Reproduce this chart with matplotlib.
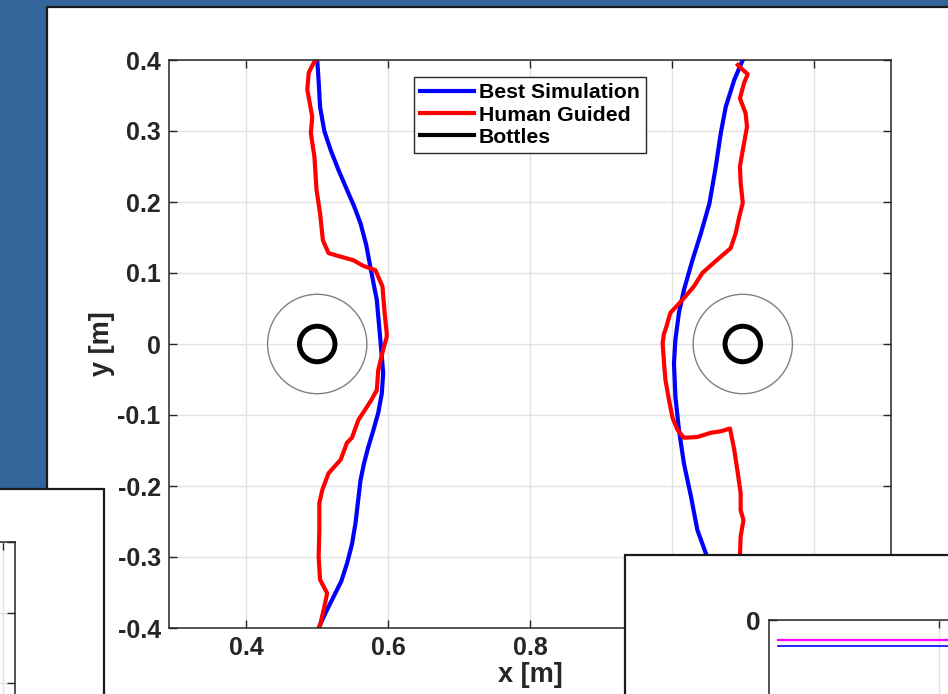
import matplotlib.pyplot as plt
from matplotlib.patches import Rectangle, Circle
from matplotlib.lines import Line2D

W, H = 948, 694

# best simulation, left bottle
sim_left_x = [0.500, 0.502, 0.504, 0.510, 0.519, 0.530, 0.542, 0.552, 0.561, 0.569,
              0.575, 0.584, 0.589, 0.593, 0.591, 0.586, 0.579, 0.572, 0.566, 0.561,
              0.554, 0.549, 0.542, 0.534, 0.523, 0.512, 0.502]
sim_left_y = [0.400, 0.370, 0.334, 0.300, 0.273, 0.245, 0.217, 0.194, 0.170, 0.140,
              0.108, 0.062, 0.006, -0.041, -0.070, -0.097, -0.122, -0.145, -0.168, -0.192,
              -0.252, -0.282, -0.309, -0.334, -0.356, -0.378, -0.400]

# best simulation, right bottle
sim_right_x = [1.100, 1.088, 1.076, 1.069, 1.062, 1.053, 1.041, 1.029, 1.017,
               1.010, 1.005, 1.003, 1.005, 1.010, 1.017, 1.027, 1.036, 1.048,
               1.062, 1.076, 1.090, 1.100]
sim_right_y = [0.400, 0.372, 0.334, 0.297, 0.250, 0.198, 0.156, 0.118, 0.076,
               0.044, 0.006, -0.027, -0.074, -0.121, -0.168, -0.215, -0.262, -0.295,
               -0.330, -0.360, -0.385, -0.400]

# human guided, left bottle
hum_left_x = [0.499, 0.495, 0.488, 0.486, 0.493, 0.491, 0.496, 0.499, 0.504,
              0.508, 0.516, 0.533, 0.551, 0.565, 0.582, 0.592, 0.595, 0.598,
              0.598, 0.593, 0.586, 0.584, 0.575, 0.558, 0.549, 0.542, 0.533,
              0.516, 0.507, 0.503, 0.503, 0.502, 0.504, 0.514, 0.509, 0.503]
hum_left_y = [0.400, 0.396, 0.382, 0.358, 0.320, 0.297, 0.264, 0.217, 0.184,
              0.146, 0.128, 0.123, 0.118, 0.110, 0.104, 0.081, 0.044, 0.015,
              0.010, -0.008, -0.037, -0.065, -0.081, -0.107, -0.132, -0.139, -0.163,
              -0.182, -0.206, -0.224, -0.262, -0.300, -0.332, -0.351, -0.375, -0.400]

# human guided, right bottle
hum_right_x = [1.093, 1.097, 1.107, 1.102, 1.096, 1.104, 1.106, 1.100, 1.096,
               1.097, 1.100, 1.095, 1.090, 1.083, 1.069, 1.053, 1.043, 1.031,
               1.013, 0.998, 0.991, 0.989, 0.987, 0.989, 0.991, 0.996, 1.001,
               1.008, 1.017, 1.036, 1.055, 1.069, 1.082, 1.088, 1.093, 1.097,
               1.097, 1.101, 1.097, 1.096, 1.098, 1.100, 1.100]
hum_right_y = [0.393, 0.389, 0.380, 0.368, 0.346, 0.325, 0.306, 0.273, 0.250,
               0.227, 0.199, 0.179, 0.156, 0.135, 0.123, 0.109, 0.100, 0.081,
               0.060, 0.044, 0.020, 0.015, 0.001, -0.027, -0.051, -0.079, -0.104,
               -0.121, -0.132, -0.131, -0.125, -0.123, -0.119, -0.149, -0.182, -0.210,
               -0.234, -0.248, -0.271, -0.300, -0.340, -0.380, -0.400]

bottle_x = [0.5, 1.1]
bottle_y = [0.0, 0.0]
bottle_r = 0.025
zone_r = 0.07

x_ticks = [0.4, 0.6, 0.8, 1.0, 1.2]
x_ticklabels = ['0.4', '0.6', '0.8', '1', '1.2']
y_ticks = [-0.4, -0.3, -0.2, -0.1, 0.0, 0.1, 0.2, 0.3, 0.4]
y_ticklabels = ['-0.4', '-0.3', '-0.2', '-0.1', '0', '0.1', '0.2', '0.3', '0.4']

# bits of the other windows lying on top
bl_xticks = [0]
bl_yticks = [0, -1, -2, -3, -4]
br_yticks = [0, -5, -10]
br_yticklabels = ['0', '', '']
br_line_x = [0.5, 20]
br_magenta_y = [-1.1, -1.1]
br_blue_y = [-1.45, -1.45]

plt.rcParams['font.family'] = ['Liberation Sans', 'DejaVu Sans']
plt.rcParams['font.weight'] = 'bold'
txt = '#262626'


def fig_rect(x0, y0, x1, y1):
    # pixel box (from top-left) -> figure fraction
    return [x0 / W, 1 - y1 / H, (x1 - x0) / W, (y1 - y0) / H]


def window(x0, y0, x1, y1, z):
    r = fig_rect(x0, y0, x1, y1)
    fig.add_artist(Rectangle((r[0], r[1]), r[2], r[3], transform=fig.transFigure,
                             facecolor='white', edgecolor='#1a1a1a', lw=1.6, zorder=z))


def matlab_axes(ax, fs):
    for s in ax.spines.values():
        s.set_color(txt)
        s.set_linewidth(1.1)
    ax.tick_params(direction='in', length=6, width=1, colors=txt, labelsize=fs,
                   top=True, right=True, pad=6)
    ax.grid(True, color='#e3e3e3', lw=1)
    ax.set_axisbelow(True)


fig = plt.figure(figsize=(W / 100, H / 100), dpi=100)
fig.patch.set_facecolor('#326599')

window(47, 7, 980, 720, -10)

ax = fig.add_axes(fig_rect(169, 60, 891, 628))
ax.set_zorder(0)
matlab_axes(ax, 18)

ax.plot(sim_left_x, sim_left_y, color='#0000ff', lw=3, label='Best Simulation')
ax.plot(sim_right_x, sim_right_y, color='#0000ff', lw=3)
ax.plot(hum_left_x, hum_left_y, color='#ff0000', lw=3, label='Human Guided')
ax.plot(hum_right_x, hum_right_y, color='#ff0000', lw=3)
for bx, by in zip(bottle_x, bottle_y):
    ax.add_patch(Circle((bx, by), zone_r, fill=False, edgecolor='#808080', lw=1))
    ax.add_patch(Circle((bx, by), bottle_r, fill=False, edgecolor='black', lw=3.6))

ax.set_xlim(0.291, 1.309)
ax.set_ylim(-0.4, 0.4)
ax.set_xticks(x_ticks)
ax.set_xticklabels(x_ticklabels)
ax.set_yticks(y_ticks)
ax.set_yticklabels(y_ticklabels)
ax.set_xlabel('x [m]', fontsize=19.5, fontweight='bold', color=txt, labelpad=1)
ax.set_ylabel('y [m]', fontsize=19.5, fontweight='bold', color=txt, labelpad=2)

handles, labels = ax.get_legend_handles_labels()
handles.append(Line2D([], [], color='black', lw=3))
labels.append('Bottles')
leg = ax.legend(handles, labels, loc='upper left',
                bbox_to_anchor=((414 - 169) / 722, (628 - 77) / 568),
                borderaxespad=0, prop={'weight': 'bold', 'size': 15.3},
                handlelength=2.5, handletextpad=0.25, labelspacing=0.15,
                borderpad=0.3, fancybox=False, framealpha=1)
leg.get_frame().set_edgecolor(txt)
leg.get_frame().set_linewidth(1)

# window in the lower left corner
window(-10, 489, 104, 720, 5)
ax_bl = fig.add_axes(fig_rect(-337, 542, 15, 824))
ax_bl.set_zorder(6)
matlab_axes(ax_bl, 18)
ax_bl.set_xlim(-3.4, 0.12)
ax_bl.set_ylim(-4, 0)
ax_bl.set_xticks(bl_xticks)
ax_bl.set_yticks(bl_yticks)
ax_bl.set_xticklabels([])
ax_bl.set_yticklabels([])

# window in the lower right corner
window(625, 555, 980, 720, 5)
ax_br = fig.add_axes(fig_rect(769, 620, 1109, 800))
ax_br.set_zorder(6)
matlab_axes(ax_br, 19)
ax_br.plot(br_line_x, br_magenta_y, color='#ff00ff', lw=1.6)
ax_br.plot(br_line_x, br_blue_y, color='#0000ff', lw=1.2)
ax_br.set_xlim(0, 20)
ax_br.set_ylim(-10, 0)
ax_br.set_xticks([10])
ax_br.set_xticklabels([])
ax_br.set_yticks(br_yticks)
ax_br.set_yticklabels(br_yticklabels)

fig.savefig('out.png', dpi=100, facecolor=fig.get_facecolor())
